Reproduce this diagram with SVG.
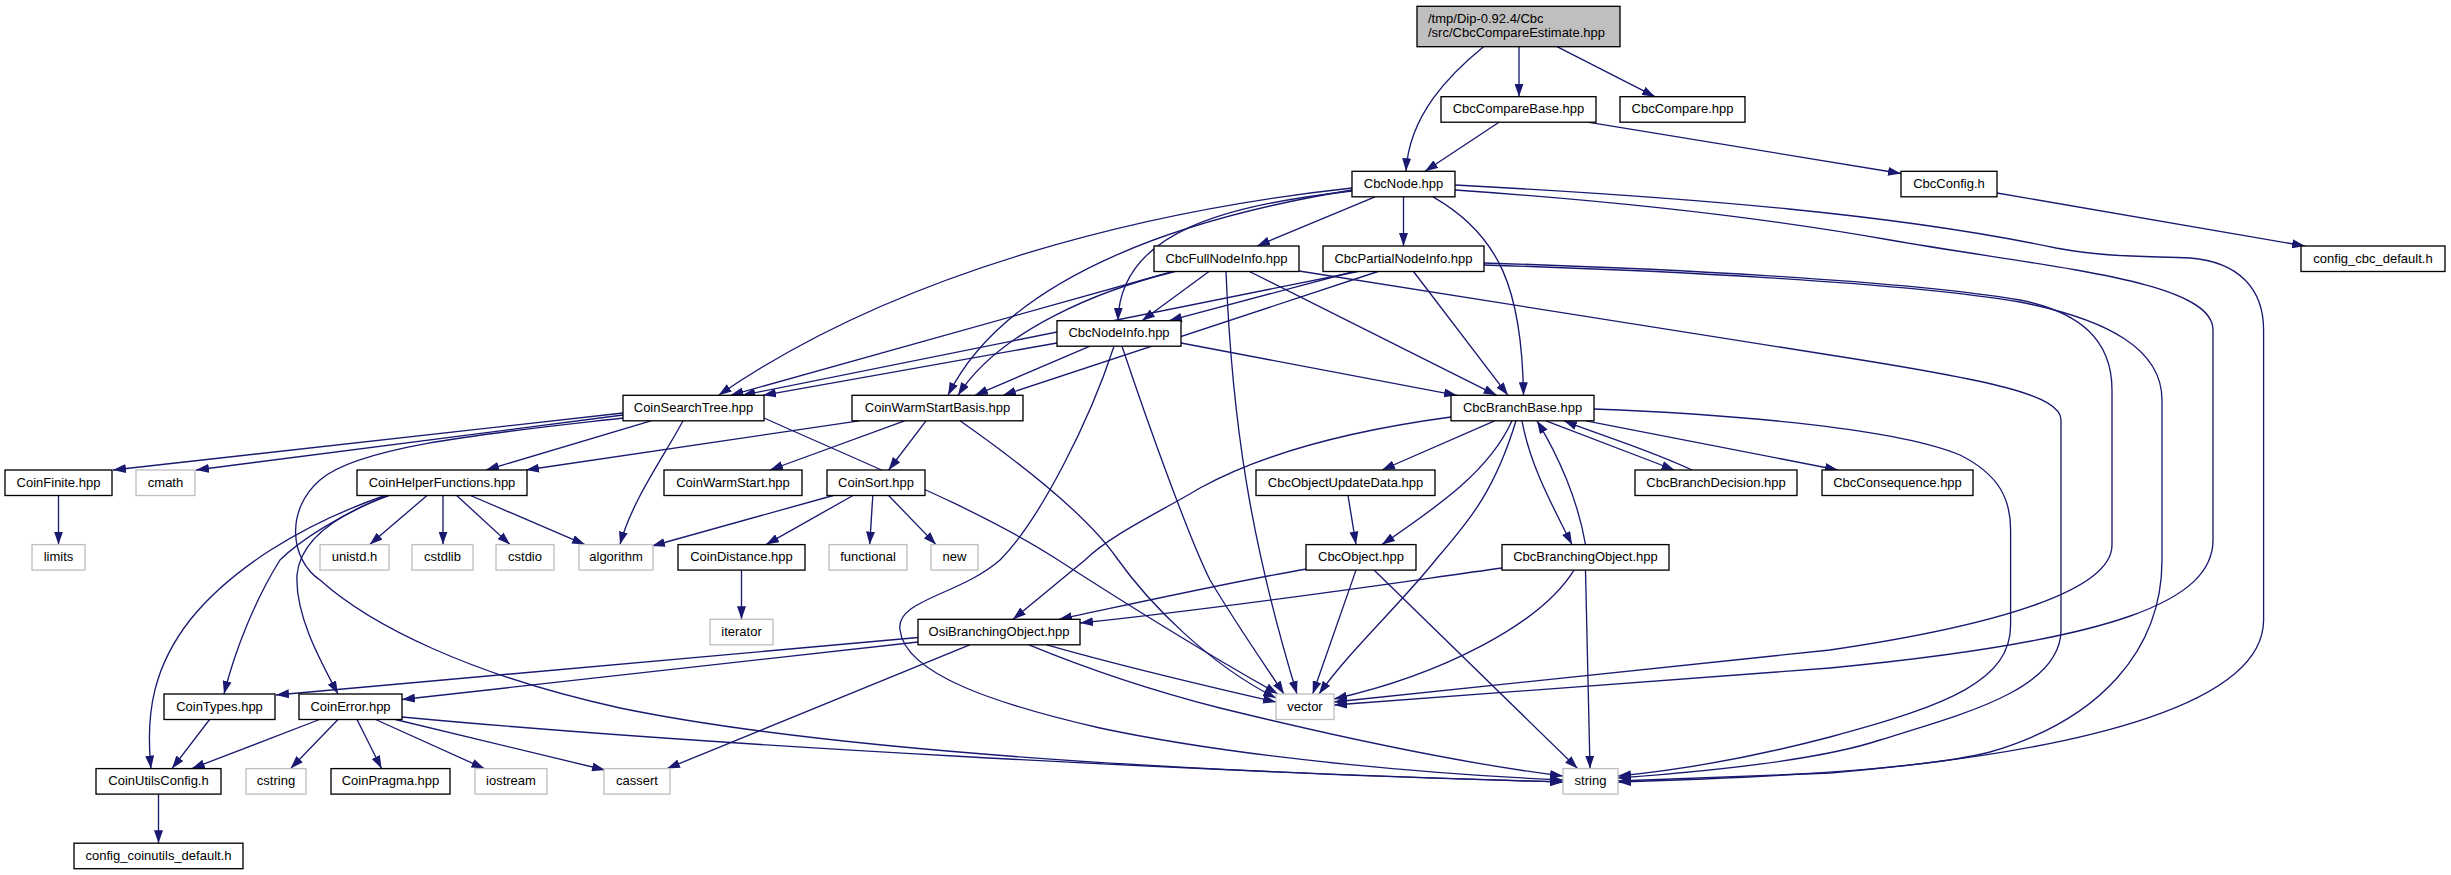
<svg xmlns="http://www.w3.org/2000/svg" width="2451" height="875" viewBox="0 0 2451 875">
<style>
rect{stroke-width:1.33}
.n rect{fill:#fff;stroke:#000}
.s rect{fill:#fff;stroke:#bfbfbf}
.m rect{fill:#bfbfbf;stroke:#000}
text{font-family:"Liberation Sans",Arial,Helvetica,sans-serif;font-size:13px;fill:#000}
.n text,.s text{text-anchor:middle}
#edges path{fill:none;stroke:#191970;stroke-width:1.33;marker-end:url(#a)}
</style>
<defs>
<marker id="a" viewBox="0 0 13 9" refX="13" refY="4.5" markerWidth="13" markerHeight="9" markerUnits="userSpaceOnUse" orient="auto"><path d="M0,0L13,4.5L0,9z" fill="#191970"/></marker>
</defs>
<rect width="2451" height="875" fill="#fff"/>
<g id="edges">
<path d="M1483.5,46.7C1450,74 1409,115 1406,171.3"/>
<path d="M1519,46.7L1519,96.7"/>
<path d="M1557,46.7L1655,96.7"/>
<path d="M1499,122.2L1425,171.3"/>
<path d="M1587.5,122.2L1901,173.5"/>
<path d="M1997,193L2305,246"/>
<path d="M1375,196.8L1257,246"/>
<path d="M1403.5,196.8L1403.5,246"/>
<path d="M1433,196.8C1500,235 1522,290 1523.5,395.3"/>
<path d="M1352,191C1230,205 1120,230 1118,320.7"/>
<path d="M1352,188C1150,210 900,270 718.6,395.3"/>
<path d="M1352,190C1200,215 1010,270 948,395.3"/>
<path d="M1455,190C1600,200 1750,215 1890,240C2050,268 2213,280 2213,330L2213,540C2213,600 2120,640 1830,668L1334,705"/>
<path d="M1455,185C1700,198 1900,215 2056,248C2110,258 2150,256 2190,258C2240,262 2263.6,290 2263.6,330L2263.6,620C2263.6,700 2100,750 1830,773L1618,781"/>
<path d="M1209,271.5L1142,320.7"/>
<path d="M1173,271.5L730.5,395.3"/>
<path d="M1175,271.5C1100,290 1000,330 958,395.3"/>
<path d="M1249.4,271.5L1496.6,395.3"/>
<path d="M1226,271.5C1232,420 1250,540 1297,694"/>
<path d="M1299,271L1830,355C1990,380 2061,395 2061,420L2061,630C2061,690 1960,715 1880,740C1820,760 1700,772 1618,778"/>
<path d="M1358,271.5L742.3,395.3"/>
<path d="M1354,271.5L1169,320.7"/>
<path d="M1378,271.5L1003,395.3"/>
<path d="M1413.5,271.5L1508,395.3"/>
<path d="M1484,263C1650,268 1900,280 2020,300C2080,312 2112,340 2112,390L2112,545C2112,590 2000,625 1830,650L1334,702"/>
<path d="M1484,265C1650,270 1900,282 2020,302C2110,320 2162,350 2162,400L2162,560C2162,650 2100,720 1990,752C1920,770 1750,778 1618,782"/>
<path d="M1057,343L763,395.3"/>
<path d="M1090,346.2L975,395.3"/>
<path d="M1181,343L1457,395.3"/>
<path d="M1122,346.2C1150,430 1190,540 1210,580C1240,630 1265,665 1284,694"/>
<path d="M1114,346.2C1090,420 1040,520 1000,560C960,595 895,600 900,630C905,675 1000,705 1100,728C1250,760 1450,775 1563,780"/>
<path d="M623,413L113,470"/>
<path d="M623,415L196,470"/>
<path d="M651,420.8L486,470"/>
<path d="M683,420.8C665,455 632,500 620,544.6"/>
<path d="M623,418C500,432 360,445 320,480C285,510 290,560 320,580C370,625 470,675 620,708C800,745 1100,770 1563,782"/>
<path d="M764,418C880,470 980,510 1055,558C1120,600 1200,650 1278,694"/>
<path d="M859,420.8L526,470"/>
<path d="M904.5,420.8L770,470"/>
<path d="M926,420.8L888.6,470"/>
<path d="M960,420.8C1030,470 1090,520 1116,557C1150,605 1210,665 1276,698"/>
<path d="M1494.6,420.8L1382,470"/>
<path d="M1512,420.8C1490,470 1440,505 1382,544.6"/>
<path d="M1451,417C1340,432 1260,455 1200,488C1160,512 1110,535 1085,560L1013,619.3"/>
<path d="M1516,420.8C1495,490 1470,520 1438,557C1400,605 1350,650 1319,694"/>
<path d="M1522,420.8C1530,465 1552,505 1572,544.6"/>
<path d="M1546,420.8L1674.5,470"/>
<path d="M1586,420.8L1838,470"/>
<path d="M1594,409C1750,415 1900,430 1960,455C2000,475 2010.6,500 2010.6,530L2010.6,625C2010.6,680 1950,705 1830,737C1750,758 1680,770 1618,776"/>
<path d="M1692,470C1650,450 1600,435 1564,420.8"/>
<path d="M1585.5,544.6C1578,500 1558,455 1537,420.8"/>
<path d="M1348,495.5L1356,544.6"/>
<path d="M1307,569C1240,580 1150,600 1059,619.3"/>
<path d="M1356,570.1L1312.7,694"/>
<path d="M1374,570.1L1577.6,768.6"/>
<path d="M1502,568C1400,582 1250,605 1080,623"/>
<path d="M1574,570.1C1540,625 1440,675 1334,699"/>
<path d="M1585.5,570.1L1590,768.6"/>
<path d="M918,637.5L276,695"/>
<path d="M918,642L402,699.5"/>
<path d="M969.7,644.8L667,768.6"/>
<path d="M1046.8,644.8C1100,660 1180,680 1276,702"/>
<path d="M1029,644.8C1090,670 1150,690 1220,708C1330,735 1450,762 1563,776"/>
<path d="M385,495.5C300,525 230,570 190,620C155,665 145,710 151,768.6"/>
<path d="M387,495.5C340,515 300,540 280,560C255,600 235,650 224,694"/>
<path d="M389,495.5C335,515 300,540 297,575C295,615 320,660 338,694"/>
<path d="M427,495.5L369.7,544.6"/>
<path d="M443,495.5L443,544.6"/>
<path d="M456.7,495.5L510,544.6"/>
<path d="M470.5,495.5L585,544.6"/>
<path d="M833.3,495.5L652,546"/>
<path d="M853,495.5L766,544.6"/>
<path d="M872.8,495.5L869.7,544.6"/>
<path d="M888.6,495.5L936,544.6"/>
<path d="M58.5,495.5L58.5,544.6"/>
<path d="M741.5,570.1L741.5,619.3"/>
<path d="M209.6,719.5L172,768.6"/>
<path d="M319.5,719.5L191.8,768.6"/>
<path d="M338,719.5L290.6,768.6"/>
<path d="M357,719.5L381.6,768.6"/>
<path d="M375.6,719.5L484.4,768.6"/>
<path d="M395.4,719.5L605,770"/>
<path d="M402,717C700,745 1200,772 1563,782"/>
<path d="M158.5,794.1L158.5,843.2"/>
</g>
<g id="main" class="m"><rect x="1417" y="6.3" width="203" height="40.4"/><text x="1428" y="22.5">/tmp/Dip-0.92.4/Cbc</text><text x="1428" y="36.5">/src/CbcCompareEstimate.hpp</text></g>
<g id="CbcCompareBase" class="n"><rect x="1441" y="96.7" width="155" height="25.5"/><text x="1518.5" y="113.2">CbcCompareBase.hpp</text></g>
<g id="CbcCompare" class="n"><rect x="1620" y="96.7" width="125" height="25.5"/><text x="1682.5" y="113.2">CbcCompare.hpp</text></g>
<g id="CbcNode" class="n"><rect x="1352" y="171.3" width="103" height="25.5"/><text x="1403.5" y="187.8">CbcNode.hpp</text></g>
<g id="CbcConfig" class="n"><rect x="1901" y="171.3" width="96" height="25.5"/><text x="1949" y="187.8">CbcConfig.h</text></g>
<g id="CbcFullNodeInfo" class="n"><rect x="1154" y="246" width="145" height="25.5"/><text x="1226.5" y="262.5">CbcFullNodeInfo.hpp</text></g>
<g id="CbcPartialNodeInfo" class="n"><rect x="1323" y="246" width="161" height="25.5"/><text x="1403.5" y="262.5">CbcPartialNodeInfo.hpp</text></g>
<g id="config_cbc_default" class="n"><rect x="2301" y="246" width="144" height="25.5"/><text x="2373" y="262.5">config_cbc_default.h</text></g>
<g id="CbcNodeInfo" class="n"><rect x="1057" y="320.7" width="124" height="25.5"/><text x="1119" y="337.2">CbcNodeInfo.hpp</text></g>
<g id="CoinSearchTree" class="n"><rect x="623" y="395.3" width="141" height="25.5"/><text x="693.5" y="411.8">CoinSearchTree.hpp</text></g>
<g id="CoinWarmStartBasis" class="n"><rect x="852" y="395.3" width="171" height="25.5"/><text x="937.5" y="411.8">CoinWarmStartBasis.hpp</text></g>
<g id="CbcBranchBase" class="n"><rect x="1451" y="395.3" width="143" height="25.5"/><text x="1522.5" y="411.8">CbcBranchBase.hpp</text></g>
<g id="CoinFinite" class="n"><rect x="5" y="470" width="107" height="25.5"/><text x="58.5" y="486.5">CoinFinite.hpp</text></g>
<g id="cmath" class="s"><rect x="136" y="470" width="59" height="25.5"/><text x="165.5" y="486.5">cmath</text></g>
<g id="CoinHelperFunctions" class="n"><rect x="357" y="470" width="170" height="25.5"/><text x="442" y="486.5">CoinHelperFunctions.hpp</text></g>
<g id="CoinWarmStart" class="n"><rect x="664" y="470" width="138" height="25.5"/><text x="733" y="486.5">CoinWarmStart.hpp</text></g>
<g id="CoinSort" class="n"><rect x="827" y="470" width="98" height="25.5"/><text x="876" y="486.5">CoinSort.hpp</text></g>
<g id="CbcObjectUpdateData" class="n"><rect x="1256" y="470" width="179" height="25.5"/><text x="1345.5" y="486.5">CbcObjectUpdateData.hpp</text></g>
<g id="CbcBranchDecision" class="n"><rect x="1635" y="470" width="162" height="25.5"/><text x="1716" y="486.5">CbcBranchDecision.hpp</text></g>
<g id="CbcConsequence" class="n"><rect x="1822" y="470" width="151" height="25.5"/><text x="1897.5" y="486.5">CbcConsequence.hpp</text></g>
<g id="limits" class="s"><rect x="32" y="544.6" width="53" height="25.5"/><text x="58.5" y="561.1">limits</text></g>
<g id="unistd" class="s"><rect x="320" y="544.6" width="69" height="25.5"/><text x="354.5" y="561.1">unistd.h</text></g>
<g id="cstdlib" class="s"><rect x="412" y="544.6" width="61" height="25.5"/><text x="442.5" y="561.1">cstdlib</text></g>
<g id="cstdio" class="s"><rect x="496" y="544.6" width="58" height="25.5"/><text x="525" y="561.1">cstdio</text></g>
<g id="algorithm" class="s"><rect x="579" y="544.6" width="74" height="25.5"/><text x="616" y="561.1">algorithm</text></g>
<g id="CoinDistance" class="n"><rect x="678" y="544.6" width="127" height="25.5"/><text x="741.5" y="561.1">CoinDistance.hpp</text></g>
<g id="functional" class="s"><rect x="829" y="544.6" width="78" height="25.5"/><text x="868" y="561.1">functional</text></g>
<g id="new" class="s"><rect x="931" y="544.6" width="47" height="25.5"/><text x="954.5" y="561.1">new</text></g>
<g id="CbcObject" class="n"><rect x="1306" y="544.6" width="110" height="25.5"/><text x="1361" y="561.1">CbcObject.hpp</text></g>
<g id="CbcBranchingObject" class="n"><rect x="1502" y="544.6" width="167" height="25.5"/><text x="1585.5" y="561.1">CbcBranchingObject.hpp</text></g>
<g id="iterator" class="s"><rect x="710" y="619.3" width="63" height="25.5"/><text x="741.5" y="635.8">iterator</text></g>
<g id="OsiBranchingObject" class="n"><rect x="918" y="619.3" width="162" height="25.5"/><text x="999" y="635.8">OsiBranchingObject.hpp</text></g>
<g id="CoinTypes" class="n"><rect x="164" y="694" width="111" height="25.5"/><text x="219.5" y="710.5">CoinTypes.hpp</text></g>
<g id="CoinError" class="n"><rect x="299" y="694" width="103" height="25.5"/><text x="350.5" y="710.5">CoinError.hpp</text></g>
<g id="vector" class="s"><rect x="1276" y="694" width="58" height="25.5"/><text x="1305" y="710.5">vector</text></g>
<g id="CoinUtilsConfig" class="n"><rect x="96" y="768.6" width="125" height="25.5"/><text x="158.5" y="785.1">CoinUtilsConfig.h</text></g>
<g id="cstring" class="s"><rect x="246" y="768.6" width="60" height="25.5"/><text x="276" y="785.1">cstring</text></g>
<g id="CoinPragma" class="n"><rect x="331" y="768.6" width="119" height="25.5"/><text x="390.5" y="785.1">CoinPragma.hpp</text></g>
<g id="iostream" class="s"><rect x="475" y="768.6" width="72" height="25.5"/><text x="511" y="785.1">iostream</text></g>
<g id="cassert" class="s"><rect x="604" y="768.6" width="66" height="25.5"/><text x="637" y="785.1">cassert</text></g>
<g id="string" class="s"><rect x="1563" y="768.6" width="55" height="25.5"/><text x="1590.5" y="785.1">string</text></g>
<g id="config_coinutils_default" class="n"><rect x="74" y="843.2" width="169" height="25.5"/><text x="158.5" y="859.7">config_coinutils_default.h</text></g>
</svg>
